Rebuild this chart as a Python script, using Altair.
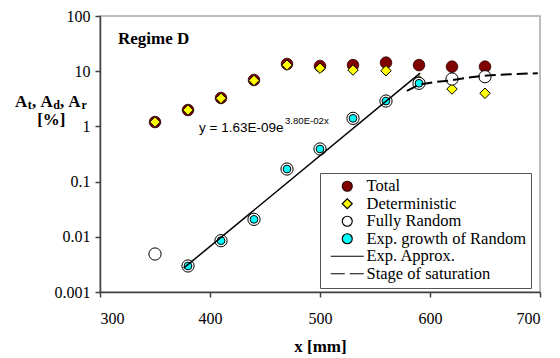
import altair as alt
import pandas as pd

# ---- data ----
x_pts = [350, 380, 410, 440, 470, 500, 530, 560, 590, 620, 650]
total = [1.20, 1.98, 3.27, 6.93, 13.5, 12.4, 12.9, 14.3, 12.9, 12.1, 12.1]
determ = [1.20, 1.98, 3.22, 6.8, 12.9, 11.3, 10.5, 10.2, 6.7, 4.76, 3.98]
fully = [0.00488, 0.00296, 0.0085, 0.0207, 0.169, 0.39, 1.40, 2.88, 6.04, 7.22, 7.94]
exp_x = [380, 410, 440, 470, 500, 530, 560, 590]
exp_growth = [0.00296, 0.0085, 0.0207, 0.169, 0.39, 1.40, 2.88, 6.04]
approx_x = [376, 591]
approx_y = [0.0027, 9.2]
sat_x = [579, 590, 603, 618, 634, 652, 673, 698]
sat_y = [4.4, 5.7, 6.3, 6.8, 7.6, 8.4, 8.8, 9.2]

series_names = ["Total", "Deterministic", "Fully Random", "Exp. growth of Random",
                "Exp. Approx.", "Stage of saturation"]
fills = ["#800000", "#ffff00", "#ffffff", "#00ffff", "transparent", "transparent"]
strokes = ["#2a0000", "#000000", "#000000", "#000000", "#000000", "#000000"]
shapes = ["circle", "diamond", "circle", "circle", "M-3.3,0H3.3", "M-3.3,0H-0.5M0.5,0H3.3"]

x_ticks = [300, 400, 500, 600, 700]
y_ticks = [0.001, 0.01, 0.1, 1, 10, 100]

SERIF = "Liberation Serif"
SANS = "Liberation Sans"

def frame(name, xs, ys):
    return pd.DataFrame({"series": name, "x": xs, "y": ys})

xs = alt.Scale(domain=[300, 700], nice=False, zero=False)
ys = alt.Scale(type="log", domain=[0.001, 100], nice=False)

X = alt.X("x:Q", scale=xs, axis=alt.Axis(values=x_ticks, title="x [mm]", grid=False))
Y = alt.Y("y:Q", scale=ys, axis=alt.Axis(values=y_ticks, format="~g", title=None, grid=False))

legend = alt.Legend(
    title=None, orient="none", legendX=220, legendY=157,
    labelFont=SERIF, labelFontSize=16.5, labelColor="black", labelLimit=300,
    strokeColor="#555555", fillColor="white", padding=5,
    symbolSize=100, symbolStrokeWidth=1.2, symbolOpacity=1,
    symbolOffset=14, labelOffset=11, rowPadding=0.5,
)
enc_common = dict(
    fill=alt.Fill("series:N", scale=alt.Scale(domain=series_names, range=fills), legend=legend),
    stroke=alt.Stroke("series:N", scale=alt.Scale(domain=series_names, range=strokes), legend=legend),
    shape=alt.Shape("series:N", scale=alt.Scale(domain=series_names, range=shapes), legend=legend),
)

def pts(df, size, sw=1.0):
    return alt.Chart(df).mark_point(size=size, opacity=1, strokeWidth=sw).encode(x=X, y=Y, **enc_common)

l_total = pts(frame("Total", x_pts, total), 135, 0.8)
l_det = pts(frame("Deterministic", x_pts, determ), 110, 1.0)
l_full = pts(frame("Fully Random", x_pts, fully), 150, 1.0)
l_exp = pts(frame("Exp. growth of Random", exp_x, exp_growth), 60, 1.0)

l_approx = alt.Chart(frame("Exp. Approx.", approx_x, approx_y)).mark_line(
    color="black", strokeWidth=1.5).encode(x=X, y=Y)
l_sat = alt.Chart(frame("Stage of saturation", sat_x, sat_y)).mark_line(
    color="black", strokeWidth=2, strokeDash=[11, 5]).encode(x=X, y=Y)

one = pd.DataFrame({"a": [0]})

def txt(text, x, y, size, font=SERIF, weight="normal", align="left"):
    return alt.Chart(one).mark_text(
        text=text, font=font, fontSize=size, fontWeight=weight, align=align,
        baseline="alphabetic", color="black"
    ).encode(x=alt.value(x), y=alt.value(y))

texts = [
    txt("Regime D", 18, 28, 17, weight="bold"),
    txt("y = 1.63E-09e", 99, 115.5, 13.5, font=SANS),
    txt("3.80E-02x", 185, 108, 9.6, font=SANS),
    txt("A", -85, 91.3, 17, weight="bold"),
    txt("t", -72.3, 92.5, 12, weight="bold"),
    txt(",", -68, 91.3, 17, weight="bold"),
    txt("A", -59.5, 91.3, 17, weight="bold"),
    txt("d", -46.8, 92.5, 12, weight="bold"),
    txt(",", -40, 91.3, 17, weight="bold"),
    txt("A", -31.7, 91.3, 17, weight="bold"),
    txt("r", -18.5, 92.5, 12, weight="bold"),
    txt("[%]", -48.7, 109, 17, weight="bold", align="center"),
]

chart = alt.layer(l_total, l_det, l_full, l_exp, l_approx, l_sat, *texts).properties(
    width=440, height=276,
    autosize=alt.AutoSizeParams(type="none"),
    padding={"left": 100, "top": 16, "right": 20, "bottom": 66},
    background="white",
).configure_view(
    stroke="#a8a8a8", strokeWidth=1.5
).configure_axis(
    domainColor="#404040", domainWidth=1.5, tickColor="#404040", tickWidth=1.5, tickSize=5,
    labelFont=SERIF, labelFontSize=16, labelColor="black",
    titleFont=SERIF, titleFontSize=17, titleFontWeight="bold", titleColor="black",
).configure_axisX(
    labelPadding=13, titlePadding=12
).configure_axisY(
    labelPadding=5
).configure_legend(
    labelFont=SERIF, labelFontSize=16.5, labelColor="black",
)

chart.save("out.html", embed_options={"renderer": "svg", "actions": False})
